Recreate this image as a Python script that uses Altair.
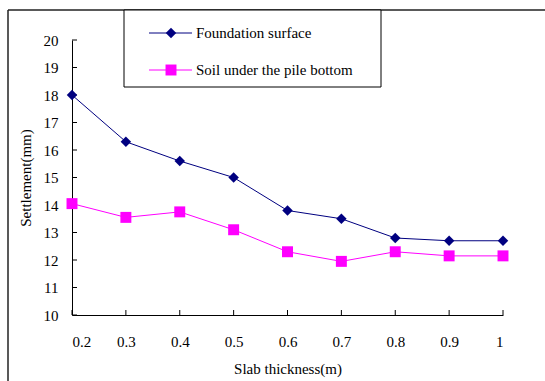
import altair as alt
import pandas as pd

thickness = [0.2, 0.3, 0.4, 0.5, 0.6, 0.7, 0.8, 0.9, 1.0]
foundation = [18.0, 16.3, 15.6, 15.0, 13.8, 13.5, 12.8, 12.7, 12.7]
soil = [14.05, 13.55, 13.75, 13.1, 12.3, 11.95, 12.3, 12.15, 12.15]
series_names = ["Foundation surface", "Soil under the pile bottom"]
colors = ["#000080", "#FF00FF"]
shapes = ["diamond", "square"]
y_ticks = [10, 11, 12, 13, 14, 15, 16, 17, 18, 19, 20]
x_ticks = thickness

W, H = 431, 275
FONT = "Liberation Serif, Times New Roman, serif"

df_f = pd.DataFrame({"thickness": thickness, "value": foundation})
df_s = pd.DataFrame({"thickness": thickness, "value": soil})
df_yt = pd.DataFrame({"v": y_ticks})
df_xt = pd.DataFrame({"v": x_ticks})
df_one = pd.DataFrame({"k": [0]})

xs = alt.Scale(domain=[0.2, 1.0], nice=False, zero=False)
ys = alt.Scale(domain=[10, 20], nice=False, zero=False)

x_axis = alt.Axis(values=x_ticks, format=".1~f", ticks=False, grid=False,
                  domainColor="#000000", domainWidth=1, labelOverlap=False,
                  labelFont=FONT, labelFontSize=15, labelColor="#000000",
                  labelPadding=19, title="Slab thickness(m)", titleFont=FONT,
                  titleFontSize=15, titleFontWeight="normal", titleColor="#000000",
                  titlePadding=12)
y_axis = alt.Axis(values=y_ticks, ticks=False, grid=False,
                  domainColor="#000000", domainWidth=1, labelOverlap=False,
                  labelFont=FONT, labelFontSize=15, labelColor="#000000",
                  labelPadding=14, title="Settlement(mm)", titleFont=FONT,
                  titleFontSize=15, titleFontWeight="normal", titleColor="#000000",
                  titlePadding=10)


def X(field):
    return alt.X(field, scale=xs, axis=x_axis)


def Y(field):
    return alt.Y(field, scale=ys, axis=y_axis)


line_f = alt.Chart(df_f).mark_line(color=colors[0], strokeWidth=1).encode(
    x=X("thickness:Q"), y=Y("value:Q"))
pts_f = alt.Chart(df_f).mark_point(shape=shapes[0], filled=True, color=colors[0], size=110, opacity=1).encode(
    x=X("thickness:Q"), y=Y("value:Q"))
line_s = alt.Chart(df_s).mark_line(color=colors[1], strokeWidth=1).encode(
    x=X("thickness:Q"), y=Y("value:Q"))
pts_s = alt.Chart(df_s).mark_point(shape=shapes[1], filled=True, color=colors[1], size=120, opacity=1).encode(
    x=X("thickness:Q"), y=Y("value:Q"))

ytick_marks = alt.Chart(df_yt).mark_rule(color="#000000", strokeWidth=1).encode(
    y=Y("v:Q"), x=alt.value(0), x2=alt.value(5))
xtick_marks = alt.Chart(df_xt).mark_rule(color="#000000", strokeWidth=1).encode(
    x=X("v:Q"), y=alt.value(H), y2=alt.value(H - 5))

frame_top = alt.Chart(df_one).mark_rule(color="#222222", strokeWidth=1.5).encode(
    x=alt.value(-64), x2=alt.value(473), y=alt.value(-30))
frame_left = alt.Chart(df_one).mark_rule(color="#222222", strokeWidth=1.5).encode(
    x=alt.value(-64), y=alt.value(-30), y2=alt.value(341))

legend_box = alt.Chart(df_one).mark_rect(fill="white", stroke="#000000", strokeWidth=1).encode(
    x=alt.value(52), x2=alt.value(309), y=alt.value(-30), y2=alt.value(47))

legend_layers = []
for i, (name, col, shp) in enumerate(zip(series_names, colors, shapes)):
    yy = -7 + i * 37
    legend_layers.append(alt.Chart(df_one).mark_rule(color=col, strokeWidth=1).encode(
        x=alt.value(77), x2=alt.value(120), y=alt.value(yy)))
    legend_layers.append(alt.Chart(df_one).mark_point(shape=shp, filled=True, color=col,
                                                       size=110 if i == 0 else 120, opacity=1).encode(
        x=alt.value(99), y=alt.value(yy)))
    legend_layers.append(alt.Chart(df_one).mark_text(align="left", baseline="middle", font=FONT,
                                                      fontSize=15, color="#000000").encode(
        x=alt.value(124), y=alt.value(yy), text=alt.value(name)))

chart = alt.layer(
    line_f, frame_top, frame_left, legend_box, *legend_layers,
    ytick_marks, xtick_marks, pts_f, line_s, pts_s,
).properties(
    width=W, height=H,
    autosize=alt.AutoSizeParams(type="none"),
    padding={"left": 72, "top": 40, "right": 42, "bottom": 66},
    background="white",
).configure_view(stroke=None)

chart.save("out.html", embed_options={"renderer": "svg", "actions": False})
